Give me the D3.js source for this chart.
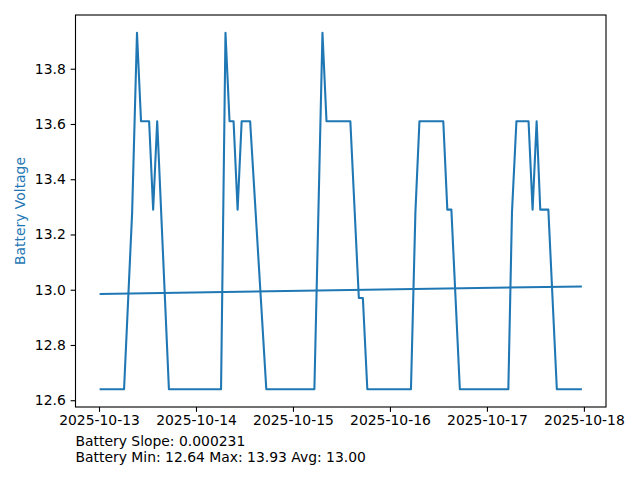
<!DOCTYPE html>
<html>
<head>
<meta charset="utf-8">
<script src="https://cdn.jsdelivr.net/npm/d3@7"></script>
<style>
    body { margin: 0; background: #fff; }
    svg { display: block; font-family: "DejaVu Sans", sans-serif; }
</style>
</head>
<body>
<div id="chart"></div>
<script>
// Battery voltage readings, hours after 2025-10-13 00:00
const hours = [
    0.15, 6.2, 7.2, 8.2, 9.4, 10.4, 12.4, 13.4, 14.4, 17.3,
    30.2, 31.3, 32.3, 33.3, 34.3, 35.3, 37.4, 41.4,
    53.3, 55.3, 56.3, 62.2, 64.3, 65.3, 66.4,
    77.2, 78.3, 79.3, 85.2, 86.2, 87.2, 89.3,
    101.3, 102.2, 103.3, 106.3, 107.3, 108.3, 109.2, 111.2, 113.3, 119.5
];
const volts = [
    12.64, 12.64, 12.96, 13.28, 13.93, 13.61, 13.61, 13.29, 13.61, 12.64,
    12.64, 13.93, 13.61, 13.61, 13.29, 13.61, 13.61, 12.64,
    12.64, 13.93, 13.61, 13.61, 12.97, 12.97, 12.64,
    12.64, 13.28, 13.61, 13.61, 13.29, 13.29, 12.64,
    12.64, 13.28, 13.61, 13.61, 13.29, 13.61, 13.29, 13.29, 12.64, 12.64
];

// Linear trend line end points
const trendHours = [0.15, 119.5];
const trendVolts = [12.9845, 13.012];

const yTicks = [12.6, 12.8, 13.0, 13.2, 13.4, 13.6, 13.8];
const xTickDays = [13, 14, 15, 16, 17, 18];
const statLines = [
    'Battery Slope: 0.000231',
    'Battery Min: 12.64 Max: 13.93 Avg: 13.00'
];

const width = 640;
const height = 480;
const margin = { top: 15, right: 34, bottom: 73, left: 75.5 };
const blue = '#1f77b4';
const fontSize = 13.9;
const tickLen = 4.86;

const start = Date.UTC(2025, 9, 13);
const toDate = h => new Date(start + h * 3600 * 1000);

const points = hours.map((h, i) => ({ t: toDate(h), v: volts[i] }));
const trend = trendHours.map((h, i) => ({ t: toDate(h), v: trendVolts[i] }));

const svg = d3.select('#chart')
    .append('svg')
    .attr('width', width)
    .attr('height', height);

// matplotlib style 5% margins around data
const tExtent = d3.extent(points, d => +d.t);
const tPad = (tExtent[1] - tExtent[0]) * 0.05;
const vExtent = d3.extent(points, d => d.v);
const vPad = (vExtent[1] - vExtent[0]) * 0.05;

const x = d3.scaleUtc()
    .domain([tExtent[0] - tPad, tExtent[1] + tPad])
    .range([margin.left, width - margin.right]);

const y = d3.scaleLinear()
    .domain([vExtent[0] - vPad, vExtent[1] + vPad])
    .range([height - margin.bottom, margin.top]);

const line = d3.line()
    .x(d => x(d.t))
    .y(d => y(d.v));

svg.append('path')
    .datum(points)
    .attr('d', line)
    .attr('fill', 'none')
    .attr('stroke', blue)
    .attr('stroke-width', 2.08)
    .attr('stroke-linejoin', 'round');

svg.append('path')
    .datum(trend)
    .attr('d', line)
    .attr('fill', 'none')
    .attr('stroke', blue)
    .attr('stroke-width', 2.08);

// Axes
const xAxis = d3.axisBottom(x)
    .tickValues(xTickDays.map(d => new Date(Date.UTC(2025, 9, d))))
    .tickFormat(d3.utcFormat('%Y-%m-%d'))
    .tickSize(tickLen)
    .tickPadding(3.5);

const yAxis = d3.axisLeft(y)
    .tickValues(yTicks)
    .tickFormat(d3.format('.1f'))
    .tickSize(tickLen)
    .tickPadding(4.86);

const gx = svg.append('g')
    .attr('transform', `translate(0,${height - margin.bottom})`)
    .call(xAxis);

const gy = svg.append('g')
    .attr('transform', `translate(${margin.left},0)`)
    .call(yAxis);

[gx, gy].forEach(g => {
    g.select('.domain').remove();
    g.selectAll('.tick line').attr('stroke', '#000').attr('stroke-width', 1.11);
    g.selectAll('.tick text')
        .attr('fill', '#000')
        .style('font-size', fontSize + 'px')
        .style('font-family', '"DejaVu Sans", sans-serif');
});

// Frame
svg.append('rect')
    .attr('x', margin.left)
    .attr('y', margin.top)
    .attr('width', width - margin.left - margin.right)
    .attr('height', height - margin.top - margin.bottom)
    .attr('fill', 'none')
    .attr('stroke', '#000')
    .attr('stroke-width', 1.11);

// Y label
svg.append('text')
    .attr('transform', `translate(21,${(margin.top + height - margin.bottom) / 2}) rotate(-90)`)
    .attr('text-anchor', 'middle')
    .attr('dominant-baseline', 'middle')
    .attr('fill', blue)
    .style('font-size', fontSize + 'px')
    .text('Battery Voltage');

// Stats below the chart
svg.selectAll('.stat')
    .data(statLines)
    .join('text')
    .attr('class', 'stat')
    .attr('x', margin.left)
    .attr('y', (d, i) => 446 + i * 16)
    .attr('fill', '#000')
    .style('font-size', fontSize + 'px')
    .text(d => d);
</script>
</body>
</html>
